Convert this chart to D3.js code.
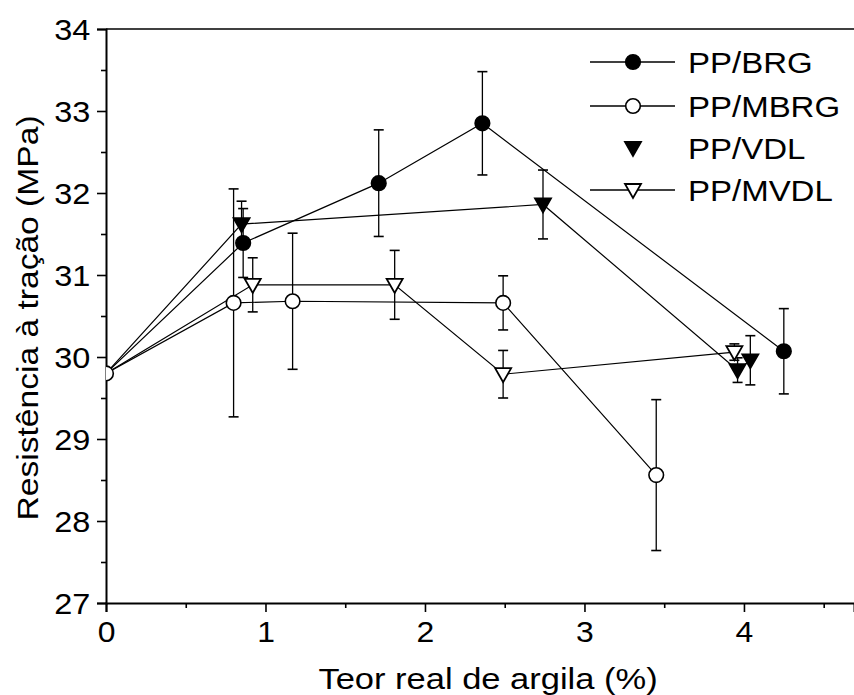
<!DOCTYPE html>
<html><head><meta charset="utf-8">
<script src="https://cdn.jsdelivr.net/npm/d3@7"></script>
<style>body{margin:0;background:#fff}svg{display:block}text{font-family:"Liberation Sans",Arial,sans-serif;fill:#000}</style>
</head><body><svg id="c" width="854" height="695"></svg>
<script>
const seriesNames = ["PP/BRG","PP/MBRG","PP/VDL","PP/MVDL"];
const brgX = [0, 0.86, 1.71, 2.36, 4.25];
const brgY = [29.8, 31.39, 32.12, 32.85, 30.07];
const brgErr = [0, 0.42, 0.65, 0.63, 0.52];
const mbrgX = [0, 0.80, 1.17, 2.49, 3.45];
const mbrgY = [29.8, 30.66, 30.68, 30.66, 28.56];
const mbrgErr = [0, 1.39, 0.83, 0.33, 0.92];
const vdlX = [0, 0.85, 2.74, 3.96, 4.04];
const vdlY = [29.8, 31.62, 31.86, 29.84, 29.96];
const vdlErr = [0, 0.28, 0.42, 0.15, 0.3];
const mvdlX = [0, 0.92, 1.81, 2.49, 3.94];
const mvdlY = [29.8, 30.88, 30.88, 29.79, 30.06];
const mvdlErr = [0, 0.33, 0.42, 0.29, 0.1];
const xTicks = [0, 1, 2, 3, 4];
const yTicks = [27, 28, 29, 30, 31, 32, 33, 34];

const svg = d3.select("#c");
const mL = 106, mR = 854, mT = 29, mB = 603;
const x = d3.scaleLinear().domain([0, 4.69]).range([mL, mR]);
const y = d3.scaleLinear().domain([27, 34]).range([mB, mT]);

svg.append("defs").append("clipPath").attr("id","clip").append("rect")
  .attr("x", mL).attr("y", mT - 20).attr("width", mR - mL).attr("height", mB - mT + 20);

// axes
const xAx = svg.append("g").attr("transform", `translate(0,${mB})`)
  .call(d3.axisBottom(x).tickValues(xTicks).tickFormat(d3.format("d")).tickSize(9).tickPadding(9));
svg.append("g").attr("transform", `translate(0,${mB})`)
  .call(d3.axisBottom(x).tickValues([0.5,1.5,2.5,3.5,4.5]).tickFormat("").tickSize(5))
  .select(".domain").remove();
const yAx = svg.append("g").attr("transform", `translate(${mL},0)`)
  .call(d3.axisLeft(y).tickValues(yTicks).tickFormat(d3.format("d")).tickSize(9).tickPadding(6));
svg.append("g").attr("transform", `translate(${mL},0)`)
  .call(d3.axisLeft(y).tickValues([27.5,28.5,29.5,30.5,31.5,32.5,33.5]).tickFormat("").tickSize(5))
  .select(".domain").remove();
svg.selectAll(".domain").attr("stroke","#000").attr("stroke-width",2);
svg.selectAll(".tick line").attr("stroke","#000").attr("stroke-width",1.6);
xAx.selectAll(".tick text").style("font-size","29px").attr("transform","scale(1.1,1)");
yAx.selectAll(".tick text").style("font-size","29px").attr("dy","0.36em")
  .attr("x", -14).attr("transform","scale(1.12,1)");
// top frame line
svg.append("line").attr("x1", mL).attr("x2", mR).attr("y1", mT).attr("y2", mT)
  .attr("stroke","#000").attr("stroke-width",1.5);

// titles
svg.append("text").attr("transform","translate(488,689) scale(1.15,1)").attr("text-anchor","middle")
  .style("font-size","30px").text("Teor real de argila (%)");
svg.append("text").attr("transform","translate(38,318) rotate(-90) scale(1.12,1)").attr("text-anchor","middle")
  .style("font-size","30px").text("Resistência à tração (MPa)");

const series = [
  {name: seriesNames[0], xs: brgX, ys: brgY, es: brgErr, shape: "circle", fill: "#000", startMark: false},
  {name: seriesNames[1], xs: mbrgX, ys: mbrgY, es: mbrgErr, shape: "circle", fill: "#fff", startMark: true},
  {name: seriesNames[2], xs: vdlX, ys: vdlY, es: vdlErr, shape: "tri", fill: "#000", startMark: false},
  {name: seriesNames[3], xs: mvdlX, ys: mvdlY, es: mvdlErr, shape: "tri", fill: "#fff", startMark: false}
];

const plot = svg.append("g").attr("clip-path","url(#clip)");
const line = d3.line().x(d => x(d[0])).y(d => y(d[1]));
series.forEach(s => {
  const pts = s.xs.map((v,i) => [v, s.ys[i], s.es[i]]);
  plot.append("path").datum(pts).attr("d", line).attr("fill","none")
    .attr("stroke","#000").attr("stroke-width",1.2);
});
series.forEach(s => {
  const pts = s.xs.map((v,i) => [v, s.ys[i], s.es[i]]).filter(d => d[2] > 0);
  const g = plot.append("g");
  g.selectAll("line.v").data(pts).join("line")
    .attr("x1", d => x(d[0])).attr("x2", d => x(d[0]))
    .attr("y1", d => y(d[1] + d[2])).attr("y2", d => y(d[1] - d[2]))
    .attr("stroke","#000").attr("stroke-width",1.3);
  [1,-1].forEach(sg => {
    g.selectAll("line.c" + (sg > 0 ? "p" : "m")).data(pts).join("line")
      .attr("class", "c" + (sg > 0 ? "p" : "m"))
      .attr("x1", d => x(d[0]) - 5).attr("x2", d => x(d[0]) + 5)
      .attr("y1", d => y(d[1] + sg*d[2])).attr("y2", d => y(d[1] + sg*d[2]))
      .attr("stroke","#000").attr("stroke-width",1.6);
  });
});
function marker(g, shape, fill, cx, cy) {
  if (shape === "circle") {
    g.append("circle").attr("cx", cx).attr("cy", cy).attr("r", 7.3)
      .attr("fill", fill).attr("stroke","#000").attr("stroke-width",1.6);
  } else {
    g.append("path").attr("d", `M${cx-8},${cy-6}L${cx+8},${cy-6}L${cx},${cy+8}Z`)
      .attr("fill", fill).attr("stroke","#000").attr("stroke-width",1.8).attr("stroke-linejoin","miter");
  }
}
series.forEach(s => {
  s.xs.forEach((v,i) => {
    if (v === 0 && !s.startMark) return;
    marker(plot, s.shape, s.fill, x(v), y(s.ys[i]));
  });
});

// legend
const legRows = [62, 106, 148, 190];
series.forEach((s,i) => {
  const ly = legRows[i];
  if (s.name !== "PP/VDL") {
    svg.append("line").attr("x1", 590).attr("x2", 675).attr("y1", ly).attr("y2", ly)
      .attr("stroke","#000").attr("stroke-width",1.3);
  }
  marker(svg, s.shape, s.fill, 633, ly);
  svg.append("text").attr("transform", `translate(688,${ly + 11}) scale(1.1,1)`)
    .style("font-size","30px").text(s.name);
});
</script></body></html>
